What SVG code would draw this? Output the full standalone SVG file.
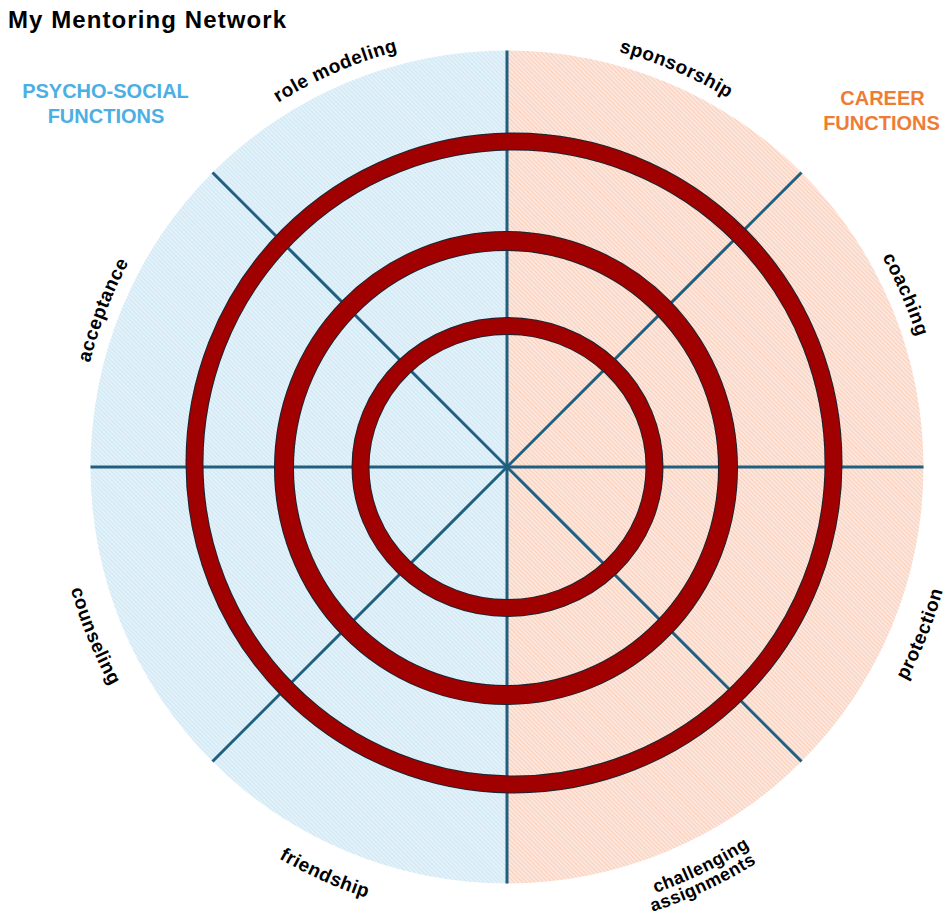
<svg xmlns="http://www.w3.org/2000/svg" xmlns:xlink="http://www.w3.org/1999/xlink" width="945" height="917" viewBox="0 0 945 917">
  <style>
    .title { font-family: "Liberation Sans", Arial, sans-serif; font-weight: 700; font-size: 24px; fill: #000; }
    .group { font-family: "Liberation Sans", Arial, sans-serif; font-weight: 700; font-size: 20px; text-anchor: middle; }
    .psy { fill: #4BAFE3; }
    .car { fill: #EE7D33; }
    .lbl { font-family: "Liberation Sans", Arial, sans-serif; font-weight: 700; font-size: 19px; fill: #000; letter-spacing: 0.5px; }
    .lbl2 { font-size: 18px; }
    .spoke { stroke: #1F5F80; stroke-width: 3; fill: none; }
    .ring-edge { fill: none; stroke: #1B2430; }
    .ring { fill: none; stroke: #A00000; }
  </style>
  <defs>
    <pattern id="hatchBlue" width="3" height="3" patternUnits="userSpaceOnUse" patternTransform="rotate(-45)">
      <rect width="3" height="3" fill="#E3F1F9"/>
      <rect width="1" height="3" fill="#CFE8F5"/>
    </pattern>
    <pattern id="hatchPeach" width="3" height="3" patternUnits="userSpaceOnUse" patternTransform="rotate(-45)">
      <rect width="3" height="3" fill="#FDE7DD"/>
      <rect width="1" height="3" fill="#F8CFBC"/>
    </pattern>
    <!-- label baselines: clockwise arc for the upper labels, counter-clockwise for the lower ones -->
    <path id="arcTop" d="M 937,467 A 430 430 0 1 1 77,467 A 430 430 0 1 1 937,467"/>
    <path id="arcBottom" d="M 960,467 A 453 453 0 1 0 54,467 A 453 453 0 1 0 960,467"/>
    <path id="arcBottom1" d="M 958,467 A 451 451 0 1 0 56,467 A 451 451 0 1 0 958,467"/>
    <path id="arcBottom2" d="M 975,467 A 468 468 0 1 0 39,467 A 468 468 0 1 0 975,467"/>
  </defs>

  <!-- title -->
  <text class="title" x="8" y="28" textLength="278" lengthAdjust="spacing">My Mentoring Network</text>

  <!-- function group headings -->
  <g id="psychosocial-heading">
    <text class="group psy" x="105.5" y="98">PSYCHO-SOCIAL</text>
    <text class="group psy" x="106" y="123">FUNCTIONS</text>
  </g>
  <g id="career-heading">
    <text class="group car" x="882.5" y="105">CAREER</text>
    <text class="group car" x="881.5" y="130">FUNCTIONS</text>
  </g>

  <!-- two half discs -->
  <g id="halves">
    <path id="psychosocial-half" d="M 507,50.5 A 416.5 416.5 0 0 0 507,883.5 Z" fill="url(#hatchBlue)"/>
    <path id="career-half" d="M 507,50.5 A 416.5 416.5 0 0 1 507,883.5 Z" fill="url(#hatchPeach)"/>
  </g>

  <!-- spokes -->
  <g id="connectors">
    <line class="spoke" x1="507" y1="50.5" x2="507" y2="883.5"/>
    <line class="spoke" x1="90.5" y1="467" x2="923.5" y2="467"/>
    <line class="spoke" x1="212.5" y1="172.5" x2="801.5" y2="761.5"/>
    <line class="spoke" x1="801.5" y1="172.5" x2="212.5" y2="761.5"/>
  </g>

  <!-- concentric rings -->
  <g id="ring-outer">
    <ellipse class="ring-edge" cx="514" cy="463" rx="319.5" ry="321.5" stroke-width="18"/>
    <ellipse class="ring" cx="514" cy="463" rx="319.5" ry="321.5" stroke-width="16"/>
  </g>
  <g id="ring-middle">
    <ellipse class="ring-edge" cx="506" cy="468" rx="222" ry="227" stroke-width="20"/>
    <ellipse class="ring" cx="506" cy="468" rx="222" ry="227" stroke-width="18"/>
  </g>
  <g id="ring-inner">
    <ellipse class="ring-edge" cx="507.5" cy="467" rx="147" ry="141" stroke-width="18"/>
    <ellipse class="ring" cx="507.5" cy="467" rx="147" ry="141" stroke-width="16"/>
  </g>

  <!-- function labels round the disc -->
  <g id="label-role-modeling">
    <text class="lbl"><textPath href="#arcTop" xlink:href="#arcTop" startOffset="68.5%" text-anchor="middle">role modeling</textPath></text>
  </g>
  <g id="label-sponsorship">
    <text class="lbl"><textPath href="#arcTop" xlink:href="#arcTop" startOffset="81.4%" text-anchor="middle">sponsorship</textPath></text>
  </g>
  <g id="label-coaching">
    <text class="lbl"><textPath href="#arcTop" xlink:href="#arcTop" startOffset="93.5%" text-anchor="middle">coaching</textPath></text>
  </g>
  <g id="label-acceptance">
    <text class="lbl"><textPath href="#arcTop" xlink:href="#arcTop" startOffset="55.9%" text-anchor="middle">acceptance</textPath></text>
  </g>
  <g id="label-counseling">
    <text class="lbl"><textPath href="#arcBottom" xlink:href="#arcBottom" startOffset="56.2%" text-anchor="middle">counseling</textPath></text>
  </g>
  <g id="label-friendship">
    <text class="lbl"><textPath href="#arcBottom" xlink:href="#arcBottom" startOffset="68.3%" text-anchor="middle">friendship</textPath></text>
  </g>
  <g id="label-challenging-assignments">
    <text class="lbl lbl2"><textPath href="#arcBottom1" xlink:href="#arcBottom1" startOffset="82.2%" text-anchor="middle">challenging</textPath></text>
    <text class="lbl lbl2"><textPath href="#arcBottom2" xlink:href="#arcBottom2" startOffset="82%" text-anchor="middle">assignments</textPath></text>
  </g>
  <g id="label-protection">
    <text class="lbl"><textPath href="#arcBottom" xlink:href="#arcBottom" startOffset="93.9%" text-anchor="middle">protection</textPath></text>
  </g>
</svg>
